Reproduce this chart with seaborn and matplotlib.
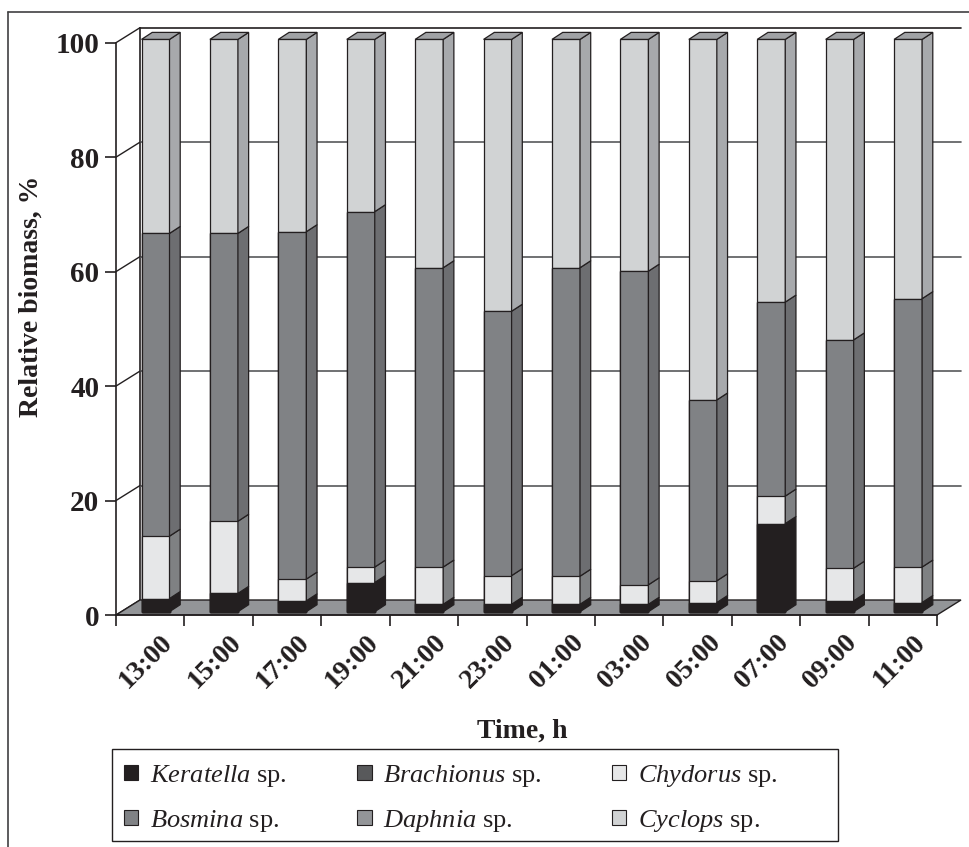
import numpy as np
import pandas as pd
import matplotlib
matplotlib.use("Agg")
import matplotlib.pyplot as plt
import matplotlib.transforms as mtransforms
from matplotlib.patches import Polygon, Patch, Rectangle
from matplotlib.lines import Line2D
import seaborn as sns

# Sampling times over the diel cycle
times = ["13:00", "15:00", "17:00", "19:00", "21:00", "23:00",
         "01:00", "03:00", "05:00", "07:00", "09:00", "11:00"]

# Relative biomass (%) of each taxon at each sampling time
keratella = [2.3, 3.2, 1.9, 5.1, 1.3, 1.3, 1.3, 1.3, 1.6, 15.4, 1.9, 1.6]
brachionus = [0.0, 0.0, 0.0, 0.0, 0.0, 0.0, 0.0, 0.0, 0.0, 0.0, 0.0, 0.0]
chydorus = [10.9, 12.6, 3.8, 2.7, 6.5, 5.0, 4.9, 3.4, 3.8, 4.8, 5.7, 6.2]
bosmina = [52.9, 50.3, 60.7, 62.1, 52.3, 46.2, 53.9, 54.8, 31.6, 33.9, 39.9, 46.9]
daphnia = [0.0, 0.0, 0.0, 0.0, 0.0, 0.0, 0.0, 0.0, 0.0, 0.0, 0.0, 0.0]
cyclops = [33.9, 33.9, 33.6, 30.1, 39.9, 47.5, 39.9, 40.5, 63.0, 45.9, 52.5, 45.3]

species = ["Keratella", "Brachionus", "Chydorus", "Bosmina", "Daphnia", "Cyclops"]
values = {"Keratella": keratella, "Brachionus": brachionus, "Chydorus": chydorus,
          "Bosmina": bosmina, "Daphnia": daphnia, "Cyclops": cyclops}

front_colors = {"Keratella": "#231f20", "Brachionus": "#58595b", "Chydorus": "#e6e7e8",
                "Bosmina": "#808285", "Daphnia": "#939598", "Cyclops": "#d1d3d4"}
side_colors = {"Keratella": "#231f20", "Brachionus": "#414042", "Chydorus": "#7f8183",
               "Bosmina": "#6d6e71", "Daphnia": "#77787b", "Cyclops": "#a7a9ac"}
TOP_COLOR = "#a0a2a5"
FLOOR_COLOR = "#939598"
EDGE = "#231f20"
GRID = "#58595b"

sns.set_style("ticks")
plt.rcParams["font.family"] = ["Liberation Serif", "DejaVu Serif"]
plt.rcParams["mathtext.fontset"] = "custom"
plt.rcParams["mathtext.rm"] = "Liberation Serif"
plt.rcParams["mathtext.it"] = "Liberation Serif:italic"

W, H = 970, 847
fig = plt.figure(figsize=(W / 100, H / 100), dpi=100)
fig.patch.set_facecolor("white")

# front plane of the pseudo-3D plot box
AX_L, AX_R, AX_B, AX_T = 116, 937, 615, 42.7
ax = fig.add_axes([AX_L / W, (H - AX_B) / H, (AX_R - AX_L) / W, (AX_B - AX_T) / H])
ax.set_facecolor("none")

n = len(times)
px_x = (AX_R - AX_L) / n          # pixels per category
px_y = (AX_B - AX_T) / 100.0      # pixels per percent
BAR_W = 28 / px_x
# depth of the box (back wall) and of a single column, in data units
BX, BY = 24 / px_x, 15 / px_y
DX, DY = 10.7 / px_x, 7 / px_y

df = pd.DataFrame({"time": times, **values})
stack = df[species].cumsum(axis=1)

# stacked columns: cumulative totals drawn from the top series downwards
for sp in reversed(species):
    sns.barplot(data=pd.DataFrame({"time": times, "cum": stack[sp]}),
                x="time", y="cum", order=times, color=front_colors[sp],
                saturation=1, width=BAR_W, edgecolor=EDGE, linewidth=0.9,
                errorbar=None, ax=ax, zorder=2)

ax.set_xlim(-0.5, n - 0.5)
ax.set_ylim(0, 100)

front = mtransforms.offset_copy(ax.transData, fig=fig, x=5.3, y=3.3, units="dots")
for p in ax.patches:
    p.set_transform(front)
    p.set_clip_on(False)

# side and top faces of every column segment
for i in range(n):
    xr = i + BAR_W / 2
    xl = i - BAR_W / 2
    bottom = 0.0
    for sp in species:
        top = stack[sp].iloc[i]
        if top - bottom > 0:
            ax.add_patch(Polygon([(xr, bottom), (xr, top), (xr + DX, top + DY), (xr + DX, bottom + DY)],
                                 closed=True, transform=front, facecolor=side_colors[sp],
                                 edgecolor=EDGE, linewidth=0.9, zorder=3, clip_on=False))
        bottom = top
    ax.add_patch(Polygon([(xl, bottom), (xr, bottom), (xr + DX, bottom + DY), (xl + DX, bottom + DY)],
                         closed=True, transform=front, facecolor=TOP_COLOR,
                         edgecolor=EDGE, linewidth=0.9, zorder=3, clip_on=False))

# floor
ax.add_patch(Polygon([(-0.5, 0), (n - 0.5, 0), (n - 0.5 + BX, BY), (-0.5 + BX, BY)],
                     closed=True, facecolor=FLOOR_COLOR, edgecolor=EDGE, linewidth=1.0,
                     zorder=1, clip_on=False))

# back wall frame, gridlines and side-wall diagonals
x0, x1 = -0.5 + BX, n - 0.5 + BX
ax.plot([x0, x0], [BY, 100 + BY], color=EDGE, lw=1.2, zorder=0.5, clip_on=False)
ax.plot([x0, x1], [100 + BY, 100 + BY], color=EDGE, lw=1.2, zorder=0.5, clip_on=False)
for v in [20, 40, 60, 80]:
    ax.plot([x0, x1], [v + BY, v + BY], color=GRID, lw=1.2, zorder=0.5, clip_on=False)
for v in [0, 20, 40, 60, 80, 100]:
    ax.plot([-0.5, x0], [v, v + BY], color=EDGE, lw=1.0, zorder=0.6, clip_on=False)

# axes, ticks and labels
for s in ["top", "right"]:
    ax.spines[s].set_visible(False)
for s in ["left", "bottom"]:
    ax.spines[s].set_color(EDGE)
    ax.spines[s].set_linewidth(1.2)
    ax.spines[s].set_zorder(4)

ax.set_yticks([0, 20, 40, 60, 80, 100])
ax.set_yticklabels(["0", "20", "40", "60", "80", "100"], fontsize=21, fontweight="bold")
ax.set_xticks(np.arange(-0.5, n, 1.0))
ax.set_xticklabels([])
ax.set_xticks(np.arange(n), minor=True)
ax.set_xticklabels(times, minor=True, fontsize=20, fontweight="bold",
                   rotation=45, ha="right", va="center", rotation_mode="anchor")
ax.tick_params(axis="both", which="major", direction="out", length=8, width=1.2,
               color=EDGE, labelcolor=EDGE, pad=4)
ax.tick_params(axis="x", which="minor", length=0, pad=0, labelcolor=EDGE)
shift = mtransforms.ScaledTranslation(19 / 100, -24 / 100, fig.dpi_scale_trans)
for lbl in ax.get_xticklabels(minor=True):
    lbl.set_transform(lbl.get_transform() + shift)

ax.set_xlabel("Time, h", fontsize=20, fontweight="bold", color=EDGE)
ax.xaxis.set_label_coords((522 - AX_L) / (AX_R - AX_L), (AX_B - 731) / (AX_B - AX_T))
ax.xaxis.label.set_va("center")
ax.set_ylabel("Relative biomass, %", fontsize=20, fontweight="bold", color=EDGE)
ax.yaxis.set_label_coords((31 - AX_L) / (AX_R - AX_L), (AX_B - 296) / (AX_B - AX_T))
ax.yaxis.label.set_va("center")

# legend: row-wise order in three columns, inside a fixed box
order = ["Keratella", "Bosmina", "Brachionus", "Daphnia", "Chydorus", "Cyclops"]
handles = [Patch(facecolor=front_colors[sp], edgecolor=EDGE, linewidth=0.8) for sp in order]
labels = [r"$\mathit{" + sp + r"}$ sp." for sp in order]
leg = fig.legend(handles, labels, ncol=3, loc="upper left",
                 bbox_to_anchor=(112 / W, 1 - 751 / H), frameon=False,
                 fontsize=19, handlelength=0.55, handleheight=0.55,
                 handletextpad=0.45, columnspacing=2.65, labelspacing=0.72,
                 borderpad=0.45, borderaxespad=0)
for t in leg.get_texts():
    t.set_color(EDGE)
fig.add_artist(Rectangle((112 / W, 1 - 841 / H), 726 / W, 92 / H, transform=fig.transFigure,
                         fill=False, edgecolor=EDGE, linewidth=1.0))

# outer frame
fig.add_artist(Line2D([8 / W, 8 / W], [0, 1 - 12 / H], transform=fig.transFigure,
                      color="#414042", lw=1.2))
fig.add_artist(Line2D([8 / W, 1], [1 - 12 / H, 1 - 12 / H], transform=fig.transFigure,
                      color="#414042", lw=1.2))

fig.savefig("out.png", dpi=100)
